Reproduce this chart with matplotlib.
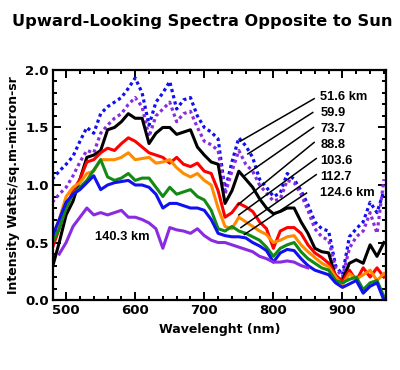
#!/usr/bin/env python3
"""Upward-looking spectra opposite to the sun, one curve per altitude."""

import matplotlib

matplotlib.use("Agg")
import matplotlib.pyplot as plt
from matplotlib.ticker import MultipleLocator, FormatStrFormatter

# Data
wavelength = list(range(480, 961, 10))

spec_51_6 = [1.05, 1.12, 1.18, 1.25, 1.38, 1.50, 1.45, 1.62, 1.68, 1.72,
             1.76, 1.84, 1.93, 1.80, 1.52, 1.72, 1.80, 1.90, 1.66, 1.74,
             1.76, 1.60, 1.50, 1.46, 1.40, 0.95, 1.20, 1.41, 1.34, 1.24,
             1.05, 0.98, 0.90, 0.93, 1.10, 1.05, 0.95, 0.83, 0.68, 0.62,
             0.60, 0.30, 0.22, 0.55, 0.62, 0.68, 0.85, 0.76, 0.95]
spec_59_9 = [0.85, 0.92, 0.98, 1.08, 1.20, 1.30, 1.28, 1.45, 1.52, 1.58,
             1.62, 1.70, 1.76, 1.68, 1.42, 1.60, 1.66, 1.72, 1.55, 1.62,
             1.64, 1.50, 1.38, 1.35, 1.30, 0.92, 1.12, 1.30, 1.18, 1.12,
             1.00, 0.93, 0.86, 0.88, 1.04, 1.02, 0.92, 0.78, 0.62, 0.55,
             0.52, 0.28, 0.20, 0.45, 0.55, 0.60, 0.76, 0.58, 1.05]
spec_73_7 = [0.28, 0.50, 0.74, 0.86, 1.05, 1.24, 1.26, 1.30, 1.48, 1.50,
             1.55, 1.62, 1.58, 1.58, 1.36, 1.45, 1.50, 1.50, 1.44, 1.46,
             1.48, 1.33, 1.26, 1.20, 1.18, 0.84, 0.95, 1.12, 1.05, 0.98,
             0.88, 0.80, 0.75, 0.77, 0.80, 0.80, 0.68, 0.58, 0.45, 0.42,
             0.41, 0.20, 0.17, 0.32, 0.35, 0.32, 0.48, 0.38, 0.50]
spec_88_8 = [0.45, 0.62, 0.80, 0.95, 1.05, 1.20, 1.22, 1.28, 1.32, 1.30,
             1.36, 1.41, 1.38, 1.33, 1.28, 1.26, 1.24, 1.19, 1.24, 1.18,
             1.16, 1.19, 1.12, 1.10, 0.95, 0.72, 0.76, 0.84, 0.81, 0.77,
             0.68, 0.62, 0.45, 0.60, 0.63, 0.63, 0.58, 0.48, 0.41, 0.37,
             0.32, 0.22, 0.16, 0.26, 0.17, 0.28, 0.20, 0.28, 0.20]
spec_103_6 = [0.55, 0.70, 0.90, 0.98, 1.02, 1.10, 1.12, 1.22, 1.22, 1.22,
              1.24, 1.28, 1.22, 1.23, 1.24, 1.19, 1.20, 1.22, 1.15, 1.10,
              1.07, 1.10, 1.04, 1.00, 0.80, 0.64, 0.62, 0.72, 0.68, 0.64,
              0.60, 0.57, 0.50, 0.52, 0.55, 0.56, 0.48, 0.42, 0.37, 0.32,
              0.29, 0.20, 0.13, 0.23, 0.18, 0.22, 0.26, 0.17, 0.23]
spec_112_7 = [0.50, 0.62, 0.80, 0.92, 0.98, 1.04, 1.13, 1.22, 1.07, 1.04,
              1.06, 1.10, 1.04, 1.06, 1.06, 0.98, 0.90, 0.98, 0.92, 0.94,
              0.96, 0.90, 0.87, 0.78, 0.62, 0.60, 0.64, 0.60, 0.58, 0.55,
              0.52, 0.46, 0.38, 0.45, 0.48, 0.50, 0.42, 0.36, 0.32, 0.28,
              0.26, 0.17, 0.15, 0.18, 0.20, 0.09, 0.15, 0.17, 0.03]
spec_124_6 = [0.55, 0.70, 0.85, 0.92, 0.96, 1.02, 1.08, 0.96, 1.00, 1.02,
              1.03, 1.04, 1.00, 1.00, 0.98, 0.92, 0.80, 0.84, 0.84, 0.82,
              0.80, 0.80, 0.78, 0.70, 0.58, 0.56, 0.55, 0.55, 0.54, 0.50,
              0.47, 0.43, 0.33, 0.41, 0.44, 0.43, 0.36, 0.30, 0.26, 0.24,
              0.22, 0.15, 0.11, 0.14, 0.17, 0.06, 0.12, 0.15, 0.00]
wavelength_140 = list(range(490, 851, 10))
spec_140_3 = [0.40, 0.50, 0.64, 0.72, 0.80, 0.74, 0.76, 0.74, 0.76, 0.78,
              0.72, 0.72, 0.70, 0.67, 0.62, 0.45, 0.63, 0.61, 0.60, 0.58,
              0.62, 0.56, 0.52, 0.50, 0.50, 0.48, 0.46, 0.44, 0.42, 0.38,
              0.36, 0.33, 0.33, 0.34, 0.33, 0.30, 0.28]

# Labels with leader lines: text, text y, line start x/y, line end x/y
labels = ["51.6 km", "59.9", "73.7", "88.8", "103.6", "112.7", "124.6 km"]
label_y = [1.765, 1.626, 1.487, 1.348, 1.209, 1.070, 0.930]
lead_start = [(859, 1.75), (857, 1.63), (858, 1.50), (859, 1.37),
              (862, 1.23), (862, 1.09), (848, 0.93)]
lead_end = [(752, 1.38), (763, 1.27), (758, 1.08), (749, 0.83),
            (750, 0.74), (753, 0.63), (758, 0.57)]

BLUE = "#1010f0"
PURPLE = "#8a2be2"

fig = plt.figure(figsize=(4.0, 3.7), dpi=100)
ax = fig.add_axes([0.1325, 0.189, 0.8325, 0.622])

dotted = (0, (1.0, 1.0))
ax.plot(wavelength, spec_51_6, color=BLUE, lw=2.3, ls=dotted)
ax.plot(wavelength, spec_59_9, color=PURPLE, lw=2.3, ls=dotted)
ax.plot(wavelength, spec_73_7, color="black", lw=2.2)
ax.plot(wavelength, spec_88_8, color="#ff0000", lw=2.2)
ax.plot(wavelength, spec_103_6, color="#ff8c00", lw=2.2)
ax.plot(wavelength, spec_112_7, color="#138a13", lw=2.2)
ax.plot(wavelength, spec_124_6, color=BLUE, lw=2.2)
ax.plot(wavelength_140, spec_140_3, color=PURPLE, lw=2.2)

lab_font = dict(family="Liberation Sans", weight="bold", size=9.3)
for text, ty, (x0, y0), (x1, y1) in zip(labels, label_y, lead_start, lead_end):
    ax.plot([x0, x1], [y0, y1], color="black", lw=1.1)
    ax.text(868, ty, text, va="center", ha="left", **lab_font)
ax.text(542, 0.55, "140.3 km", va="center", ha="left", **lab_font)

ax.set_xlim(481, 963)
ax.set_ylim(0.0, 2.0)
ax.xaxis.set_major_locator(MultipleLocator(100))
ax.xaxis.set_minor_locator(MultipleLocator(20))
ax.yaxis.set_major_locator(MultipleLocator(0.5))
ax.yaxis.set_minor_locator(MultipleLocator(0.1))
ax.yaxis.set_major_formatter(FormatStrFormatter("%.1f"))
ax.tick_params(which="both", direction="in", top=True, right=True, width=1.4)
ax.tick_params(which="major", length=6, labelsize=9.5, pad=3)
ax.tick_params(which="minor", length=3)
for lbl in ax.get_xticklabels() + ax.get_yticklabels():
    lbl.set_fontweight("bold")
for sp in ax.spines.values():
    sp.set_linewidth(1.6)

ax.set_xlabel("Wavelenght (nm)", fontsize=9, fontweight="bold", labelpad=4)
ax.set_ylabel("Intensity Watts/sq.m-micron-sr", fontsize=9, fontweight="bold", labelpad=4)
fig.suptitle("Upward-Looking Spectra Opposite to Sun", x=0.505, y=0.962,
             fontsize=11.7, fontweight="bold")

fig.savefig("out.png", dpi=100)
